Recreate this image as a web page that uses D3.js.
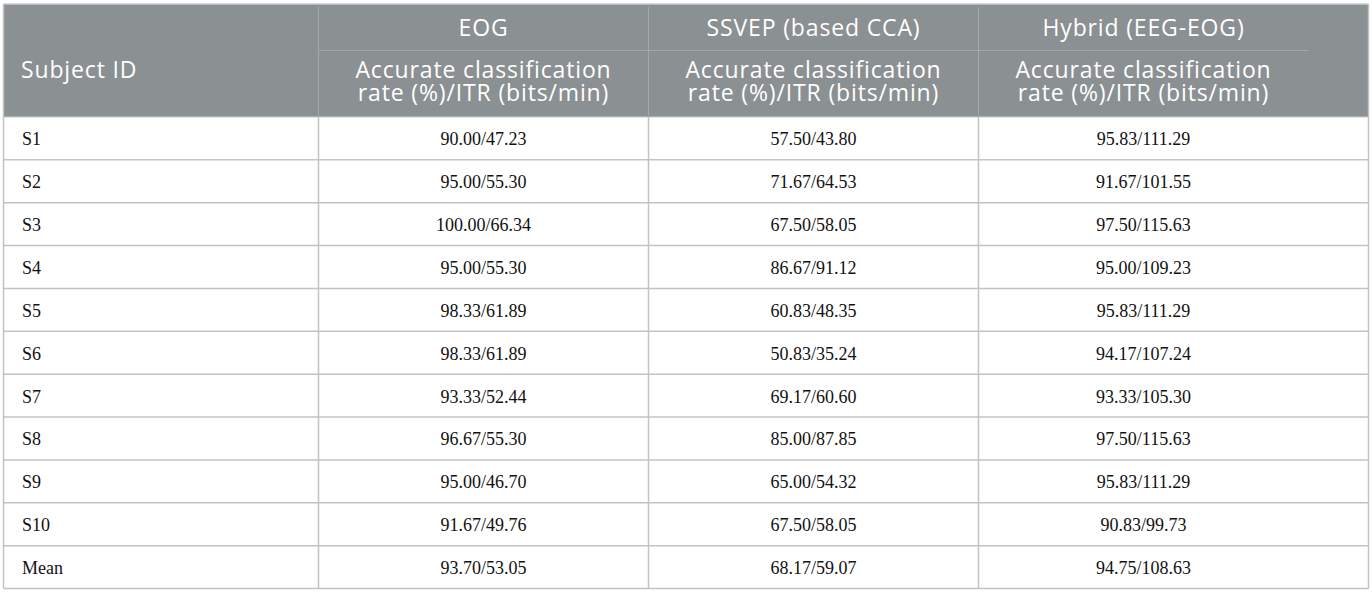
<!DOCTYPE html>
<html><head><meta charset="utf-8">
<script src="https://cdn.jsdelivr.net/npm/d3@7"></script>
<style>html,body{margin:0;padding:0;background:#fff;}svg{display:block;}</style>
</head><body>
<svg id="c" width="1372" height="593"></svg>
<script>
const subjects = ["S1","S2","S3","S4","S5","S6","S7","S8","S9","S10","Mean"];
const groupHeaders = ["EOG","SSVEP (based CCA)","Hybrid (EEG-EOG)"];
const subHeader = ["Accurate classification","rate (%)/ITR (bits/min)"];
const firstHeader = "Subject ID";
const eogValues = ["90.00/47.23","95.00/55.30","100.00/66.34","95.00/55.30","98.33/61.89","98.33/61.89","93.33/52.44","96.67/55.30","95.00/46.70","91.67/49.76","93.70/53.05"];
const ssvepValues = ["57.50/43.80","71.67/64.53","67.50/58.05","86.67/91.12","60.83/48.35","50.83/35.24","69.17/60.60","85.00/87.85","65.00/54.32","67.50/58.05","68.17/59.07"];
const hybridValues = ["95.83/111.29","91.67/101.55","97.50/115.63","95.00/109.23","95.83/111.29","94.17/107.24","93.33/105.30","97.50/115.63","95.83/111.29","90.83/99.73","94.75/108.63"];

const svg = d3.select("#c");
const L = 3.5, R = 1368.5, T = 4, HB = 117, B = 588.5;
const colEdges = [L, 318.5, 648.5, 978.5, 1308.5];
const headerFill = "#8b9092", lineBody = "#c3c3c3", lineHead = "#a3a8aa";

const y = d3.scaleBand().domain(subjects).range([HB, B]);
const colCenter = i => (colEdges[i+1] + colEdges[i+2]) / 2;

// header background
svg.append("rect").attr("x", L).attr("y", T).attr("width", R - L).attr("height", HB - T).attr("fill", headerFill);
svg.append("line").attr("x1", L).attr("x2", R).attr("y1", T).attr("y2", T).attr("stroke", "#c8cccb").attr("stroke-width", 1.5);

// header vertical dividers
[1,2,3].forEach(i => {
  svg.append("line").attr("x1", colEdges[i]).attr("x2", colEdges[i]).attr("y1", 7).attr("y2", HB)
    .attr("stroke", lineHead).attr("stroke-width", 1);
});
// line under group headers
svg.append("line").attr("x1", colEdges[1]).attr("x2", colEdges[4]).attr("y1", 50.5).attr("y2", 50.5)
  .attr("stroke", lineHead).attr("stroke-width", 1);
// header bottom
svg.append("line").attr("x1", L).attr("x2", R).attr("y1", HB - 0.5).attr("y2", HB - 0.5)
  .attr("stroke", lineHead).attr("stroke-width", 1.5);

// header texts
const hfont = "'Open Sans', Lato, sans-serif";
const hsize = 23, hls = 0.85;
svg.append("text").attr("x", 21).attr("y", 78).attr("fill", "#fff").attr("font-family", hfont)
  .attr("font-size", hsize).attr("letter-spacing", hls).text(firstHeader);
groupHeaders.forEach((g, i) => {
  const cx = colCenter(i);
  svg.append("text").attr("x", cx).attr("y", 36).attr("text-anchor", "middle").attr("fill", "#fff")
    .attr("font-family", hfont).attr("font-size", hsize).attr("letter-spacing", hls).text(g);
  const t = svg.append("text").attr("text-anchor", "middle").attr("fill", "#fff")
    .attr("font-family", hfont).attr("font-size", hsize).attr("letter-spacing", hls);
  subHeader.forEach((s, k) => {
    t.append("tspan").attr("x", cx).attr("y", 78 + k * 22.5).text(s);
  });
});

// body horizontal lines
subjects.forEach((s, i) => {
  if (i === 0) return;
  svg.append("line").attr("x1", L).attr("x2", R).attr("y1", y(s)).attr("y2", y(s))
    .attr("stroke", lineBody).attr("stroke-width", 1.5);
});
svg.append("line").attr("x1", L).attr("x2", R).attr("y1", B).attr("y2", B).attr("stroke", lineBody).attr("stroke-width", 1.5);
// body verticals
[L, colEdges[1], colEdges[2], colEdges[3], R].forEach(x => {
  svg.append("line").attr("x1", x).attr("x2", x).attr("y1", x === L || x === R ? T : HB).attr("y2", B)
    .attr("stroke", lineBody).attr("stroke-width", 1.5);
});

// body text
const bfont = "'Liberation Serif', 'Times New Roman', serif";
const series = [eogValues, ssvepValues, hybridValues];
const rows = svg.append("g");
rows.selectAll("text.sid").data(subjects).join("text").attr("class", "sid")
  .attr("x", 22).attr("y", d => y(d) + y.bandwidth() / 2 + 7)
  .attr("font-family", bfont).attr("font-size", 18).attr("fill", "#111").text(d => d);
series.forEach((vals, i) => {
  rows.selectAll("text.v" + i).data(vals).join("text").attr("class", "v" + i)
    .attr("x", colCenter(i)).attr("y", (d, j) => y(subjects[j]) + y.bandwidth() / 2 + 7)
    .attr("text-anchor", "middle").attr("font-family", bfont).attr("font-size", 18).attr("fill", "#111").text(d => d);
});
</script>
</body></html>
